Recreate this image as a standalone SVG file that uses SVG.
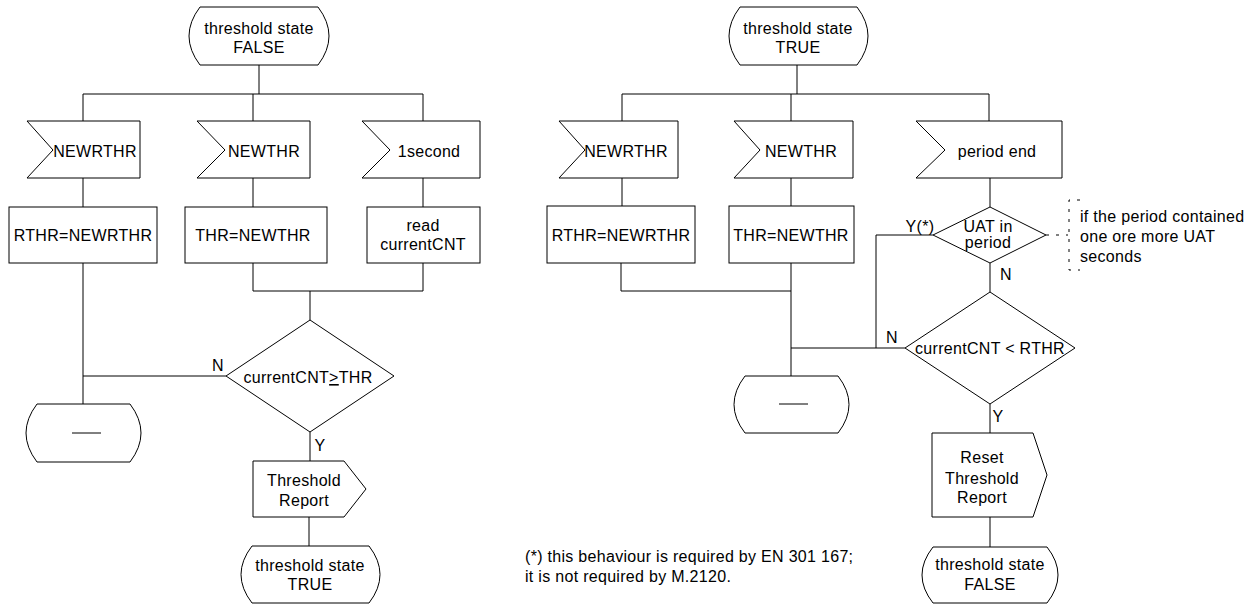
<svg xmlns="http://www.w3.org/2000/svg" width="1256" height="606" viewBox="0 0 1256 606">
<defs>
<style>
.s{fill:#fff;stroke:#000;stroke-width:1}
.c{fill:none;stroke:#000;stroke-width:1}
.d{fill:none;stroke:#000;stroke-width:1;stroke-dasharray:3 7}
text{font-family:"Liberation Sans",Arial,sans-serif;font-size:16px;letter-spacing:0.3px;fill:#000}
.m{text-anchor:middle}
</style>
</defs>
<rect width="1256" height="606" fill="#fff"/>
<g id="connectors">
<path class="c" d="M259,65V94M83,94H423M83,94V121M253,94V121M423,94V121M83,178V207M253,178V207M423,178V207M83,263V404M253,263V291H423M423,263V291M310,291V320M226,376H83M310,432V461M309,517V546"/>
<path class="c" d="M797,65V94M622,94H989M622,94V121M791,94V121M989,94V121M622,178V206M791,178V206M990,178V207M621,263V291H791M791,263V376M791,348H905M876,348V235H933M990,263V292M990,404V433M990,517V547"/>
<path class="d" d="M1046,235H1068M1080,200H1069V270H1080"/>
</g>
<g id="left-state-false">
<path class="s" d="M200,7H318Q340,36 318,65H200Q178,36 200,7Z"/>
<text class="m" x="259" y="34">threshold state</text>
<text class="m" x="259" y="53">FALSE</text>
</g>
<g id="left-in-newrthr">
<polygon class="s" points="27,121 140,121 140,178 27,178 53,150"/>
<text class="m" x="95" y="157">NEWRTHR</text>
</g>
<g id="left-in-newthr">
<polygon class="s" points="197,121 310,121 310,178 197,178 225,150"/>
<text class="m" x="264" y="157">NEWTHR</text>
</g>
<g id="left-in-1second">
<polygon class="s" points="362,121 480,121 480,178 362,178 390,150"/>
<text class="m" x="429" y="157">1second</text>
</g>
<g id="left-task-rthr">
<rect class="s" x="9" y="207" width="148" height="56"/>
<text class="m" x="83" y="241">RTHR=NEWRTHR</text>
</g>
<g id="left-task-thr">
<rect class="s" x="185" y="207" width="142" height="56"/>
<text class="m" x="253" y="241">THR=NEWTHR</text>
</g>
<g id="left-task-read">
<rect class="s" x="367" y="207" width="113" height="56"/>
<text class="m" x="423" y="231">read</text>
<text class="m" x="423" y="250">currentCNT</text>
</g>
<g id="left-decision">
<polygon class="s" points="310,320 394,376 310,432 226,376"/>
<text class="m" x="308" y="383">currentCNT<tspan text-decoration="underline">&gt;</tspan>THR</text>
<text class="m" x="218" y="371">N</text>
<text class="m" x="320" y="451">Y</text>
</g>
<g id="left-state-dash">
<path class="s" d="M37,404H130Q152,433 130,462H37Q15,433 37,404Z"/>
<path class="c" d="M72,433H101"/>
</g>
<g id="left-out-report">
<polygon class="s" points="253,461 344,461 366,489 344,517 253,517"/>
<text class="m" x="304" y="486">Threshold</text>
<text class="m" x="304" y="506">Report</text>
</g>
<g id="left-state-true">
<path class="s" d="M252,546H369Q391,574.5 369,603H252Q230,574.5 252,546Z"/>
<text class="m" x="310" y="571">threshold state</text>
<text class="m" x="310" y="590">TRUE</text>
</g>
<g id="right-state-true">
<path class="s" d="M740,7H857Q879,36 857,65H740Q718,36 740,7Z"/>
<text class="m" x="798" y="34">threshold state</text>
<text class="m" x="798" y="53">TRUE</text>
</g>
<g id="right-in-newrthr">
<polygon class="s" points="559,121 678,121 678,178 559,178 585,150"/>
<text class="m" x="626" y="157">NEWRTHR</text>
</g>
<g id="right-in-newthr">
<polygon class="s" points="734,121 853,121 853,178 734,178 760,150"/>
<text class="m" x="801" y="157">NEWTHR</text>
</g>
<g id="right-in-periodend">
<polygon class="s" points="916,121 1062,121 1062,178 916,178 945,150"/>
<text class="m" x="997" y="157">period end</text>
</g>
<g id="right-task-rthr">
<rect class="s" x="547" y="206" width="148" height="57"/>
<text class="m" x="621" y="241">RTHR=NEWRTHR</text>
</g>
<g id="right-task-thr">
<rect class="s" x="729" y="206" width="125" height="57"/>
<text class="m" x="791" y="241">THR=NEWTHR</text>
</g>
<g id="right-decision-uat">
<polygon class="s" points="990,207 1046,235 990,263 933,235"/>
<text class="m" x="988" y="232">UAT in</text>
<text class="m" x="988" y="248">period</text>
<text class="m" x="920" y="232">Y(*)</text>
<text class="m" x="1006" y="280">N</text>
</g>
<g id="right-comment">
<text x="1080" y="222">if the period contained</text>
<text x="1080" y="242">one ore more UAT</text>
<text x="1080" y="262">seconds</text>
</g>
<g id="right-decision-rthr">
<polygon class="s" points="990,292 1075,348 990,404 905,348"/>
<text class="m" x="990" y="354">currentCNT &lt; RTHR</text>
<text class="m" x="892" y="343">N</text>
<text class="m" x="998" y="422">Y</text>
</g>
<g id="right-state-dash">
<path class="s" d="M745,376H838Q860,404.5 838,433H745Q723,404.5 745,376Z"/>
<path class="c" d="M779,404H808"/>
</g>
<g id="right-out-reset">
<polygon class="s" points="932,433 1033,433 1047,475 1033,517 932,517"/>
<text class="m" x="982" y="463">Reset</text>
<text class="m" x="982" y="484">Threshold</text>
<text class="m" x="982" y="503">Report</text>
</g>
<g id="right-state-false">
<path class="s" d="M933,547H1047Q1069,575 1047,603H933Q911,575 933,547Z"/>
<text class="m" x="990" y="570">threshold state</text>
<text class="m" x="990" y="590">FALSE</text>
</g>
<g id="note">
<text x="525" y="562">(*) this behaviour is required by EN 301 167;</text>
<text x="525" y="582">it is not required by M.2120.</text>
</g>
</svg>
